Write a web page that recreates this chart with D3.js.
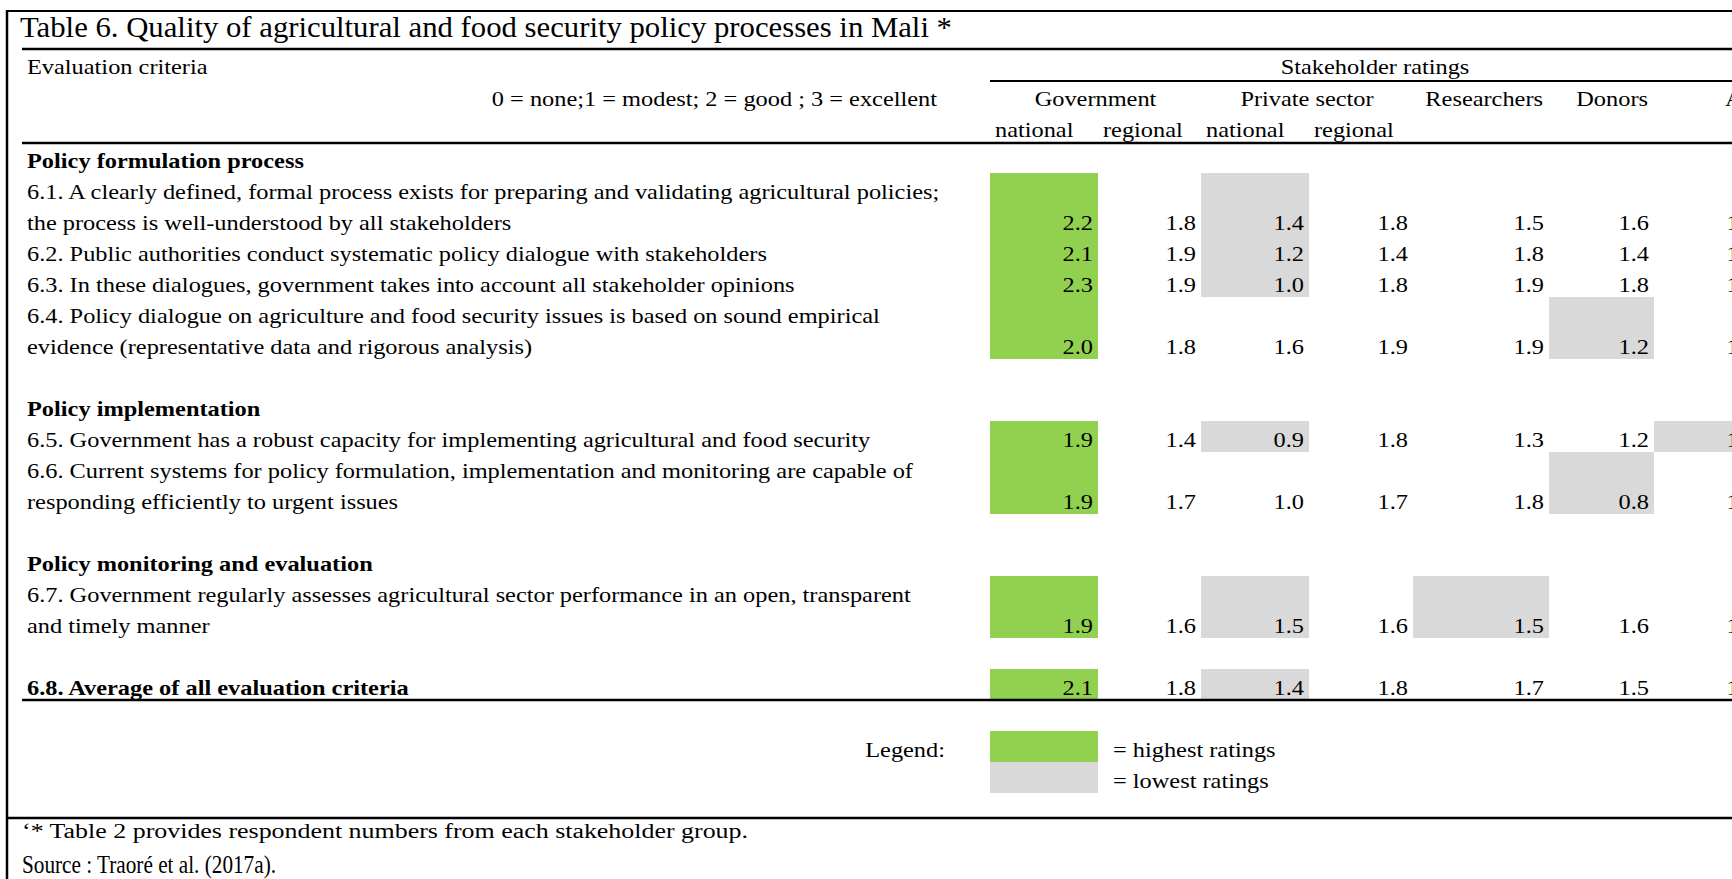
<!DOCTYPE html>
<html>
<head>
<meta charset="utf-8">
<script src="https://cdnjs.cloudflare.com/ajax/libs/d3/7.8.5/d3.min.js"></script>
<style>
  body { margin: 0; background: #fff; }
  svg { display: block; font-family: "Liberation Serif", "Times New Roman", serif; }
</style>
</head>
<body>
<svg id="chart" width="1732" height="879"></svg>
<script>
var title = "Table 6. Quality of agricultural and food security policy processes in Mali *";
var scaleNote = "0 = none;1 = modest; 2 = good ; 3 = excellent";
var sections = ["Policy formulation process", "Policy implementation", "Policy monitoring and evaluation"];
var criteria = [
  ["6.1. A clearly defined, formal process exists for preparing and validating agricultural policies;", "the process is well-understood by all stakeholders"],
  ["6.2. Public authorities conduct systematic policy dialogue with stakeholders"],
  ["6.3. In these dialogues, government takes into account all stakeholder opinions"],
  ["6.4. Policy dialogue on agriculture and food security issues is based on sound empirical", "evidence (representative data and rigorous analysis)"],
  ["6.5. Government has a robust capacity for implementing agricultural and food security"],
  ["6.6. Current systems for policy formulation, implementation and monitoring are capable of", "responding efficiently to urgent issues"],
  ["6.7. Government regularly assesses agricultural sector performance in an open, transparent", "and timely manner"],
  ["6.8. Average of all evaluation criteria"]
];
var criteriaSection = [0, 0, 0, 0, 1, 1, 2, null];   // null = summary row

var groups = ["Government", "Private sector", "Researchers", "Donors", "A"];
var subgroups = ["national", "regional", "national", "regional"];

var govNational  = [2.2, 2.1, 2.3, 2.0, 1.9, 1.9, 1.9, 2.1];
var govRegional  = [1.8, 1.9, 1.9, 1.8, 1.4, 1.7, 1.6, 1.8];
var privNational = [1.4, 1.2, 1.0, 1.6, 0.9, 1.0, 1.5, 1.4];
var privRegional = [1.8, 1.4, 1.8, 1.9, 1.8, 1.7, 1.6, 1.8];
var researchers  = [1.5, 1.8, 1.9, 1.9, 1.3, 1.8, 1.5, 1.7];
var donors       = [1.6, 1.4, 1.8, 1.2, 1.2, 0.8, 1.6, 1.5];
// last group is cut off by the page edge, only the leading "1" shows
var lastGroup    = [1.6, 1.5, 1.6, 1.6, 1.0, 1.4, 1.5, 1.5];

// column index of shaded cells, per criterion
var highestCells = [[0], [0], [0], [0], [0], [0], [0], [0]];
var lowestCells  = [[2], [2], [2], [5], [2, 6], [5], [2, 4], [2]];

var legendLabels = ["= highest ratings", "= lowest ratings"];
var footnote = "\u2018* Table 2 provides respondent numbers from each stakeholder group.";
var source = "Source : Traor\u00e9 et al. (2017a).";

// ---- layout ----
var W = 1732, H = 879;
var sx = 1.16;            // glyphs in the source are wider than they are tall
var fs = 21;
var green = "#92d050", grey = "#d9d9d9";

var values = [govNational, govRegional, privNational, privRegional, researchers, donors, lastGroup];
var colKeys = d3.range(values.length);
var colEdges = [990, 1098, 1201, 1309, 1413, 1549, 1654, 1762];
var xLeft = d3.scaleOrdinal(colKeys, colEdges.slice(0, -1));
var xRight = d3.scaleOrdinal(colKeys, colEdges.slice(1));
var y = d3.scaleLinear().domain([0, 1]).range([142, 173]);   // row index -> row top
var rowH = y(1) - y(0);
var base = 25.5;

var svg = d3.select("#chart");

function put(x, yy, str, anchor, size, weight) {
  return svg.append("text")
    .attr("transform", "translate(" + x + "," + yy + ") scale(" + sx + ",1)")
    .attr("text-anchor", anchor || "start")
    .style("font-size", (size || fs) + "px")
    .style("font-weight", weight || "normal")
    .text(str);
}

function hline(x1, x2, yy, w) {
  svg.append("line").attr("x1", x1).attr("x2", x2).attr("y1", yy).attr("y2", yy)
    .attr("stroke", "#000").attr("stroke-width", w);
}

// lay the body rows out one line at a time
var lines = [], critRows = [];
var prev;
criteria.forEach(function(c, i) {
  var s = criteriaSection[i];
  if (i === 0 || s !== prev) {
    if (i > 0) lines.push({ text: "" });
    if (s !== null) lines.push({ text: sections[s], bold: true });
    prev = s;
  }
  critRows.push({ first: lines.length, span: c.length });
  c.forEach(function(t) { lines.push({ text: t, bold: s === null }); });
});

// shaded cells
var cells = [];
critRows.forEach(function(r, i) {
  highestCells[i].forEach(function(j) { cells.push({ r: r, j: j, fill: green }); });
  lowestCells[i].forEach(function(j) { cells.push({ r: r, j: j, fill: grey }); });
});
svg.selectAll("rect.cell").data(cells).enter().append("rect")
  .attr("class", "cell")
  .attr("x", function(d) { return xLeft(d.j); })
  .attr("width", function(d) { return xRight(d.j) - xLeft(d.j); })
  .attr("y", function(d) { return y(d.r.first); })
  .attr("height", function(d) { return d.r.span * rowH; })
  .attr("fill", function(d) { return d.fill; });

// frame and rules
svg.append("line").attr("x1", 7).attr("x2", 7).attr("y1", 10).attr("y2", H)
  .attr("stroke", "#000").attr("stroke-width", 2.5);
hline(6, W, 11, 2);
hline(22, W, 49, 2.7);
hline(990, W, 81, 2);
hline(22, W, 143, 2.4);
hline(22, W, 700, 2.4);
hline(6, W, 818, 2.4);

// title
svg.append("text").attr("x", 20).attr("y", 37)
  .attr("textLength", 932).attr("lengthAdjust", "spacingAndGlyphs")
  .style("font-size", "29px").text(title);

// header
put(27, y(-3) + base - 1, "Evaluation criteria");
put(1375, y(-3) + base - 1, "Stakeholder ratings", "middle");
put(937, y(-2) + base, scaleNote, "end");
put((xLeft(0) + xRight(1)) / 2, y(-2) + base, groups[0], "middle");
put((xLeft(2) + xRight(3)) / 2, y(-2) + base, groups[1], "middle");
put(xRight(4) - 6, y(-2) + base, groups[2], "end");
put(xRight(5) - 6, y(-2) + base, groups[3], "end");
put(1725, y(-2) + base, groups[4], "start");
subgroups.forEach(function(s, j) { put(xLeft(j) + 5, y(-1) + base, s); });

// body text
lines.forEach(function(l, i) {
  if (l.text) put(27, y(i) + base, l.text, "start", fs, l.bold ? "bold" : "normal");
});

// values, on the last line of each criterion
critRows.forEach(function(r, i) {
  colKeys.forEach(function(j) {
    put(xRight(j) - 5, y(r.first + r.span - 1) + base, d3.format(".1f")(values[j][i]), "end");
  });
});

// legend
var legTop = y(lines.length + 1);
put(945, legTop + base, "Legend:", "end");
[green, grey].forEach(function(c, k) {
  svg.append("rect").attr("x", xLeft(0)).attr("width", xRight(0) - xLeft(0))
    .attr("y", legTop + k * rowH).attr("height", rowH).attr("fill", c);
  put(1113, legTop + k * rowH + base, legendLabels[k]);
});

// notes
svg.append("text").attr("x", 22).attr("y", 838)
  .attr("textLength", 726).attr("lengthAdjust", "spacingAndGlyphs")
  .style("font-size", "20px").text(footnote);
svg.append("text").attr("x", 22).attr("y", 873)
  .attr("textLength", 254).attr("lengthAdjust", "spacingAndGlyphs")
  .style("font-size", "25px").text(source);
</script>
</body>
</html>
